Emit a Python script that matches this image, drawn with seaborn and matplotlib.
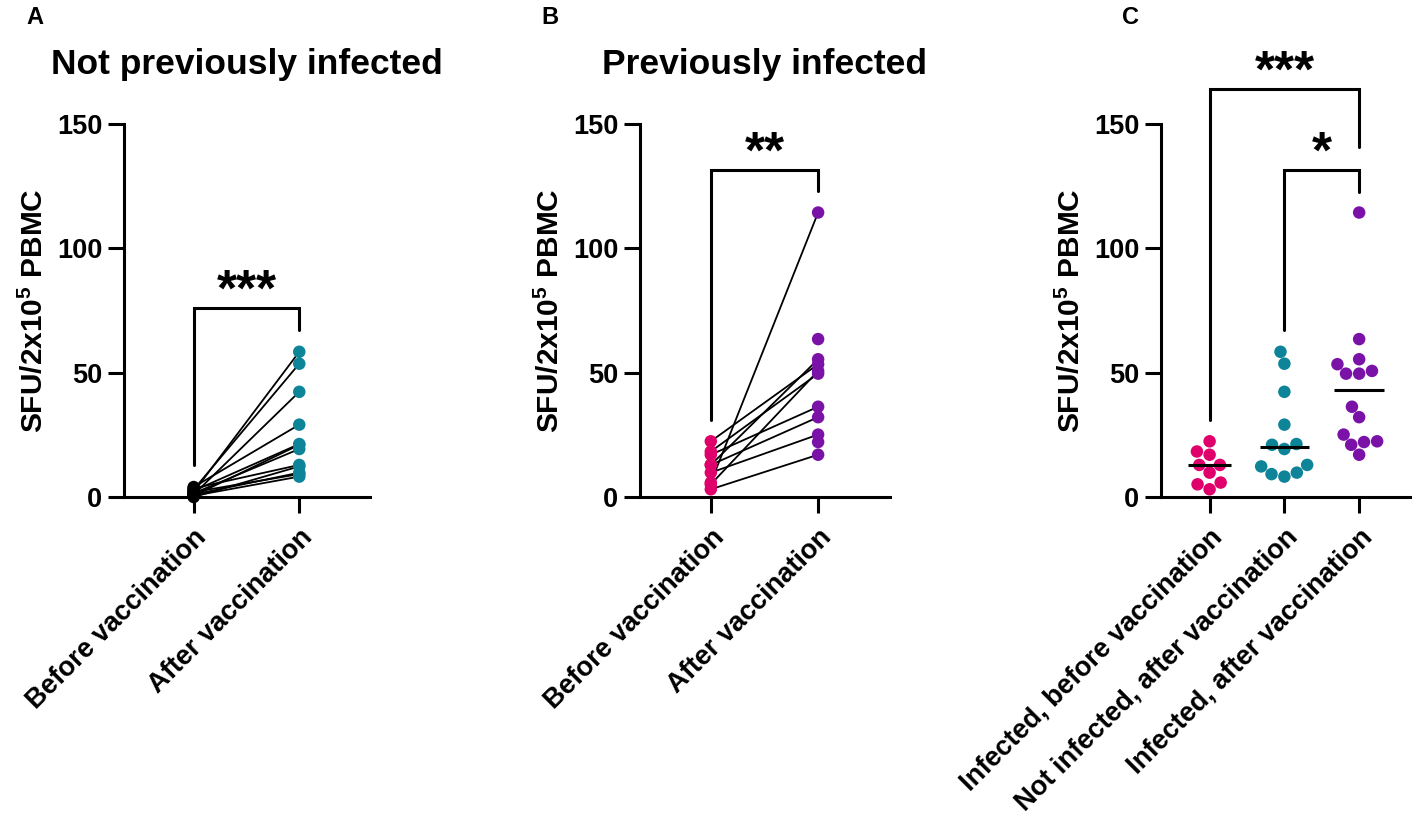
import numpy as np
import pandas as pd
import seaborn as sns
import matplotlib.pyplot as plt

# ------------------- Data -------------------
# Panel A: not previously infected, paired before / after
a_before = [2.0, 3.0, 1.0, 4.0, 2.5, 0.5, 1.5, 3.5, 0.0, 1.0, 2.0, 0.5]
a_after = [58.4, 53.6, 42.3, 29.1, 21.3, 21.0, 19.3, 12.9, 12.3, 9.8, 9.2, 8.2]

# Panel B: previously infected, paired before / after (+ unpaired after values)
b_before = [22.4, 18.3, 17.0, 12.9, 12.9, 9.8, 5.8, 5.1, 3.1]
b_after_paired = [53.4, 49.6, 36.3, 32.1, 55.4, 25.1, 114.4, 50.7, 17.0]
b_after_extra = [63.5, 22.1]

# Panel C: group comparison
c_inf_before = [22.4, 18.3, 17.0, 12.9, 12.9, 9.8, 5.8, 5.1, 3.1]
c_notinf_after = [58.4, 53.6, 42.3, 29.1, 21.3, 21.0, 19.3, 12.9, 12.3, 9.8, 9.2, 8.2]
c_inf_after = [114.4, 63.5, 55.4, 53.4, 50.7, 49.6, 49.6, 36.3, 32.1, 25.1, 22.4, 22.1, 21.0, 17.0]

pair_labels = ["Before vaccination", "After vaccination"]
group_labels = ["Infected, before vaccination",
                "Not infected, after vaccination",
                "Infected, after vaccination"]

PINK = "#E0006B"
TEAL = "#0E8499"
PURPLE = "#7A12A8"

sns.set_style("ticks")
plt.rcParams['font.family'] = ['Liberation Sans', 'DejaVu Sans']
plt.rcParams['font.weight'] = 'bold'
plt.rcParams['axes.labelweight'] = 'bold'
for key in ['text.color', 'axes.labelcolor', 'xtick.color', 'ytick.color', 'axes.edgecolor']:
    plt.rcParams[key] = 'black'
plt.rcParams['mathtext.fontset'] = 'custom'
plt.rcParams['mathtext.rm'] = 'Liberation Sans:bold'
plt.rcParams['mathtext.it'] = 'Liberation Sans:bold'
plt.rcParams['mathtext.bf'] = 'Liberation Sans:bold'

LW = 2.2
YLABEL = r"SFU/2x10$^5$ PBMC"
MS = 9.0

fig = plt.figure(figsize=(14.17, 8.26), dpi=100)
W, H = 1417, 826


def make_ax(x0, x1, y0=497, y1=124):
    return fig.add_axes([x0 / W, 1 - y0 / H, (x1 - x0) / W, (y0 - y1) / H])


def style_axis(ax, xlabels, xlim):
    ax.set_ylim(0, 150)
    ax.set_xlim(*xlim)
    ax.set_yticks([0, 50, 100, 150])
    sns.despine(ax=ax)
    for s in ["left", "bottom"]:
        ax.spines[s].set_linewidth(LW)
    ax.tick_params(axis="both", length=11.5, width=LW, labelsize=19.5, pad=4)
    ax.tick_params(axis="x", pad=8)
    ax.set_xticks(range(len(xlabels)))
    ax.set_xticklabels(xlabels, rotation=45, ha="right", rotation_mode="anchor",
                       fontsize=19.5, fontweight="bold")
    for t in ax.get_yticklabels():
        t.set_fontweight("bold")
    ax.set_ylabel(YLABEL, fontsize=21.5, fontweight="bold", labelpad=6)
    ax.set_xlabel("")


def bracket(ax, x0, x1, top, left_end, right_end, stars):
    ax.plot([x0, x0, x1, x1], [left_end, top, top, right_end], color="black",
            lw=LW, clip_on=False, solid_joinstyle="miter")
    ax.annotate(stars, xy=((x0 + x1) / 2, top), xytext=(0, 2),
                textcoords="offset points", ha="center", va="baseline",
                fontsize=37, fontweight="bold", annotation_clip=False)


def paired_panel(ax, before, after, extra, c_before, c_after):
    n = len(before)
    df = pd.DataFrame({
        "subject": list(range(n)) * 2,
        "cond": [pair_labels[0]] * n + [pair_labels[1]] * n,
        "value": list(before) + list(after),
    })
    sns.lineplot(data=df, x="cond", y="value", units="subject", estimator=None,
                 color="black", lw=1.3, ax=ax, legend=False)
    pts = pd.concat([df[["cond", "value"]],
                     pd.DataFrame({"cond": [pair_labels[1]] * len(extra), "value": extra})])
    sns.stripplot(data=pts, x="cond", y="value", hue="cond", order=pair_labels,
                  palette={pair_labels[0]: c_before, pair_labels[1]: c_after},
                  jitter=False, size=MS, linewidth=0, ax=ax, legend=False, zorder=3)
    for coll in ax.collections:
        coll.set_clip_on(False)
    for ln in ax.lines:
        ln.set_clip_on(False)


# ------------------- Panel A -------------------
axA = make_ax(124, 370)
paired_panel(axA, a_before, a_after, [], "black", TEAL)
style_axis(axA, pair_labels, (-0.66, 1.67))
bracket(axA, 0, 1, 76, 12.9, 67, "***")
axA.set_title("Not previously infected", fontsize=25.5, fontweight="bold", pad=36)

# ------------------- Panel B -------------------
axB = make_ax(640, 890)
paired_panel(axB, b_before, b_after_paired, b_after_extra, PINK, PURPLE)
style_axis(axB, pair_labels, (-0.66, 1.67))
bracket(axB, 0, 1, 131.5, 31, 123, "**")
axB.set_title("Previously infected", fontsize=25.5, fontweight="bold", pad=36)

# ------------------- Panel C -------------------
axC = make_ax(1161, 1410)
dfc = pd.DataFrame({
    "group": [group_labels[0]] * len(c_inf_before)
    + [group_labels[1]] * len(c_notinf_after)
    + [group_labels[2]] * len(c_inf_after),
    "value": c_inf_before + c_notinf_after + c_inf_after,
})
# lay the swarm out with a wider marker, then draw the dots at the real size
sns.swarmplot(data=dfc, x="group", y="value", hue="group", order=group_labels,
              palette=dict(zip(group_labels, [PINK, TEAL, PURPLE])),
              size=13, linewidth=0, ax=axC, legend=False, zorder=3)
fig.canvas.draw()
for coll in axC.collections:
    coll.set_sizes([MS ** 2])
    coll.set_clip_on(False)
for i, vals in enumerate([c_inf_before, c_notinf_after, c_inf_after]):
    hw = 0.29 if i == 0 else 0.33
    axC.hlines(np.median(vals), i - hw, i + hw, color="black", lw=LW, zorder=4)
style_axis(axC, group_labels, (-0.65, 2.68))
bracket(axC, 0, 2, 164, 31, 140.7, "***")
bracket(axC, 1, 2, 131.5, 67, 122.6, "*")

# panel letters
for lab, xp in zip("ABC", [26, 541, 1122]):
    fig.text(xp / W, 1 - 18 / H, lab, fontsize=17, fontweight="bold", va="center")

fig.savefig("out.png", dpi=100)
